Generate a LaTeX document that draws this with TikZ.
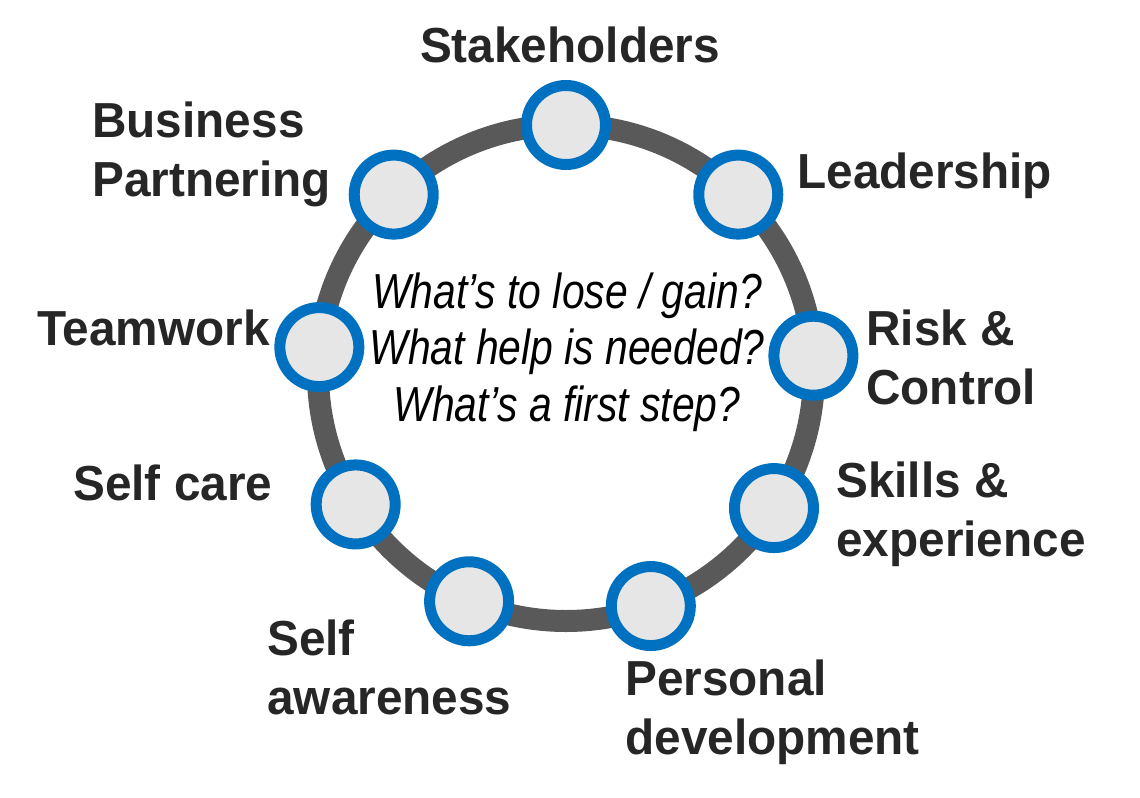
\documentclass[tikz,border=0pt]{standalone}
\usepackage{fontspec}
\setmainfont[FakeStretch=0.97]{Liberation Sans}
\newfontfamily\condfont[FakeStretch=0.83]{Liberation Sans}
\usetikzlibrary{shadows}

\definecolor{ringgray}{HTML}{595959}
\definecolor{spotblue}{HTML}{0070C0}
\definecolor{spotfill}{HTML}{E7E6E6}
\definecolor{labeltext}{HTML}{262626}

\tikzset{
    spot/.style={circle, draw=spotblue, line width=0.22cm, fill=spotfill, minimum size=1.58cm, inner sep=0pt,
        drop shadow={opacity=0.25, shadow xshift=1.5pt, shadow yshift=-1.5pt}},
    lbl/.style={font=\fontsize{28}{34}\selectfont\bfseries, text=labeltext, inner sep=0pt, align=left},
}

\begin{document}
\begin{tikzpicture}
        \useasboundingbox (-11.32,-8.5) rectangle (11.48,7.46);
        % ring
        \draw[ringgray, line width=0.44cm] (0,0) circle (4.96);
        % spots on the ring
        \node[spot] (stake) at (90:4.96) {};
        \node[spot] (lead) at (46:4.96) {};
        \node[spot] (risk) at (4:4.96) {};
        \node[spot] (skills) at (-33:4.96) {};
        \node[spot] (persdev) at (-70:4.96) {};
        \node[spot] (selfaw) at (-113:4.96) {};
        \node[spot] (selfcare) at (-148:4.96) {};
        \node[spot] (team) at (174:4.96) {};
        \node[spot] (busp) at (134:4.96) {};
        % labels
        \node[lbl, anchor=base] (stakelbl) at (0.08,6.20) {Stakeholders};
        \node[lbl, anchor=north west] (busplbl) at (-9.48,5.44) {Business\\Partnering};
        \node[lbl, anchor=base west] (leadlbl) at (4.62,3.70) {Leadership};
        \node[lbl, anchor=base east] (teamlbl) at (-5.92,0.56) {Teamwork};
        \node[lbl, anchor=north west] (risklbl) at (6.00,1.28) {Risk \&\\Control};
        \node[lbl, anchor=base west] (selfcarelbl) at (-9.86,-2.54) {Self care};
        \node[lbl, anchor=north west] (skillslbl) at (5.40,-1.76) {Skills \&\\experience};
        \node[lbl, anchor=north west] (selfawlbl) at (-5.98,-4.92) {Self\\awareness};
        \node[lbl, anchor=north west] (persdevlbl) at (1.18,-5.72) {Personal\\development};
        % questions in the middle
        \node[font=\condfont\itshape\fontsize{28}{32.4}\selectfont, align=center, inner sep=0pt, anchor=north] (questions) at (0.02,2.02)
            {What’s to lose / gain?\\What help is needed?\\What’s a first step?};
    \end{tikzpicture}
\end{document}
